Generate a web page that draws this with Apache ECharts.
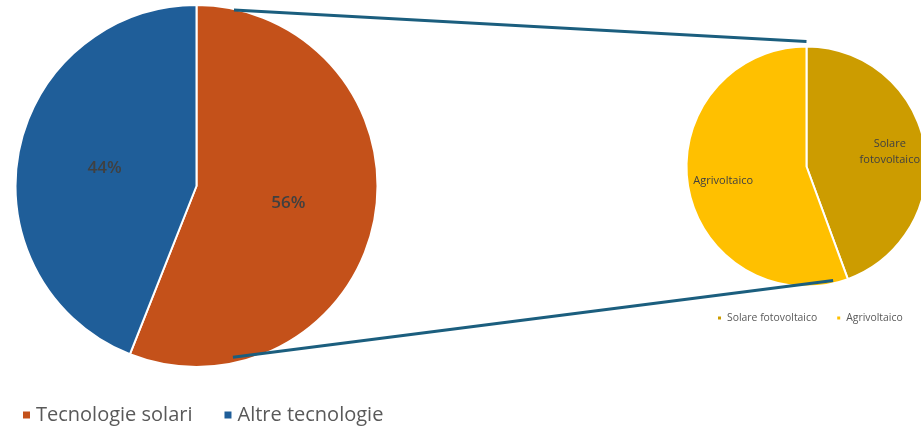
<!DOCTYPE html>
<html><head><meta charset="utf-8">
<script src="https://cdn.jsdelivr.net/npm/echarts@6/dist/echarts.min.js"></script>
<style>html,body{margin:0;padding:0;background:#fff}#c{width:921px;height:426px}</style>
</head><body><div id="c"></div>
<script>
const mainCategories = ['Tecnologie solari', 'Altre tecnologie'];
const mainValues = [56, 44];
const subCategories = ['Solare fotovoltaico', 'Agrivoltaico'];
const subValues = [44.4, 55.6];

const mainColors = ['#C4511A', '#1F5E99'];
const subColors = ['#CC9C00', '#FFC000'];
const FONT = '"Open Sans", "Noto Sans", sans-serif';

const bigC = [196.5, 186], bigR = 181;
const smallC = [806.5, 166.5], smallR = 120;

const chart = echarts.init(document.getElementById('c'));

function pt(c, r, degClockFromTop) {
  const a = degClockFromTop * Math.PI / 180;
  return [c[0] + r * Math.sin(a), c[1] - r * Math.cos(a)];
}
const subTotal = subValues.reduce((a, b) => a + b, 0);
const subAngle = subValues[0] / subTotal * 360;
const p1 = pt(bigC, bigR - 1, 12);
const p2 = pt(bigC, bigR - 6, 168);
const q1 = [smallC[0], smallC[1] - smallR - 5];
const q2 = pt(smallC, smallR - 3, subAngle + 7);

chart.setOption({
  animation: false,
  textStyle: { fontFamily: FONT },
  legend: [
    {
      data: mainCategories, left: 16, top: 400, icon: 'rect',
      itemWidth: 9, itemHeight: 9, itemGap: 30,
      textStyle: { fontSize: 20, color: '#595959', fontFamily: FONT }
    },
    {
      data: subCategories, left: 711, top: 308, icon: 'rect',
      itemWidth: 5, itemHeight: 5, itemGap: 18,
      textStyle: { fontSize: 10.4, color: '#595959', fontFamily: FONT }
    }
  ],
  series: [
    {
      type: 'pie', center: bigC, radius: [0, bigR], startAngle: 90, clockwise: true,
      itemStyle: { borderColor: '#fff', borderWidth: 2 },
      label: { show: true, position: 'inside', formatter: '{d}%', fontSize: 17, fontWeight: 600, color: '#404040', fontFamily: FONT },
      labelLine: { show: false }, emphasis: { disabled: true },
      data: mainCategories.map((n, i) => ({ name: n, value: mainValues[i], itemStyle: { color: mainColors[i] } }))
    },
    {
      type: 'pie', center: smallC, radius: [0, smallR], startAngle: 90, clockwise: true,
      itemStyle: { borderColor: '#fff', borderWidth: 2 },
      label: { show: false }, labelLine: { show: false }, emphasis: { disabled: true },
      data: subCategories.map((n, i) => ({ name: n, value: subValues[i], itemStyle: { color: subColors[i] } }))
    },
    {
      type: 'pie', center: smallC, radius: [smallR * 0.36, smallR], startAngle: 90, clockwise: true,
      silent: true, legendHoverLink: false, z: 5,
      itemStyle: { color: 'rgba(0,0,0,0)', borderWidth: 0 },
      label: {
        show: true, position: 'inside', fontSize: 11, color: '#404040', fontFamily: FONT, lineHeight: 16,
        formatter: p => p.name.trim() === 'Solare fotovoltaico' ? 'Solare\nfotovoltaico' : p.name.trim()
      },
      labelLine: { show: false }, emphasis: { disabled: true },
      data: subCategories.map((n, i) => ({ name: n + ' ', value: subValues[i] }))
    }
  ],
  graphic: [
    { type: 'line', z: 10, shape: { x1: p1[0], y1: p1[1], x2: q1[0], y2: q1[1] }, style: { stroke: '#1B5E7E', lineWidth: 3 } },
    { type: 'line', z: 10, shape: { x1: p2[0], y1: p2[1], x2: q2[0], y2: q2[1] }, style: { stroke: '#1B5E7E', lineWidth: 3 } }
  ]
});
</script></body></html>
